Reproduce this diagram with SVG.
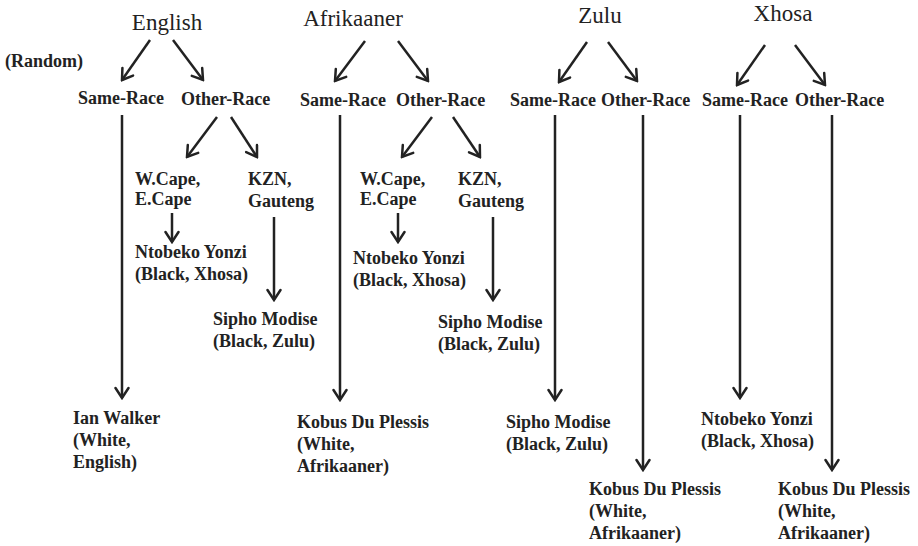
<svg xmlns="http://www.w3.org/2000/svg" width="918" height="546" viewBox="0 0 918 546">
<style>
.t{font-family:"Liberation Serif","Times New Roman",serif;font-size:23px;fill:#222}
.b{font-family:"Liberation Serif","Times New Roman",serif;font-size:18px;font-weight:bold;fill:#222}
.c line{stroke:#222;stroke-width:2.5;marker-end:url(#ah)}
</style>
<defs>
<marker id="ah" markerUnits="userSpaceOnUse" viewBox="-12 -8 14 16" markerWidth="14" markerHeight="16" refX="0" refY="0" orient="auto">
<path d="M-10,-6.5 L0,0 L-10,6.5" fill="none" stroke="#222" stroke-width="2.5" stroke-linecap="round" stroke-linejoin="miter"/>
</marker>
</defs>
<rect width="918" height="546" fill="#fff"/>
<g id="english"><text class="t" x="167" y="30" text-anchor="middle">English</text></g>
<g id="afrikaaner"><text class="t" x="353" y="26" text-anchor="middle">Afrikaaner</text></g>
<g id="zulu"><text class="t" x="600" y="23" text-anchor="middle">Zulu</text></g>
<g id="xhosa"><text class="t" x="783" y="21" text-anchor="middle">Xhosa</text></g>
<g id="random"><text class="b" x="5" y="67">(Random)</text></g>
<g id="eng-same"><text class="b" x="78" y="104">Same-Race</text></g>
<g id="eng-other"><text class="b" x="181" y="105">Other-Race</text></g>
<g id="afr-same"><text class="b" x="300" y="106">Same-Race</text></g>
<g id="afr-other"><text class="b" x="396" y="106">Other-Race</text></g>
<g id="zul-same"><text class="b" x="510" y="106">Same-Race</text></g>
<g id="zul-other"><text class="b" x="601" y="106">Other-Race</text></g>
<g id="xho-same"><text class="b" x="702" y="106">Same-Race</text></g>
<g id="xho-other"><text class="b" x="795" y="106">Other-Race</text></g>
<g id="eng-wcape"><text class="b" x="135" y="185">W.Cape,</text><text class="b" x="135" y="205">E.Cape</text></g>
<g id="eng-kzn"><text class="b" x="248" y="185">KZN,</text><text class="b" x="248" y="207">Gauteng</text></g>
<g id="afr-wcape"><text class="b" x="360" y="185">W.Cape,</text><text class="b" x="360" y="205">E.Cape</text></g>
<g id="afr-kzn"><text class="b" x="458" y="185">KZN,</text><text class="b" x="458" y="207">Gauteng</text></g>
<g id="eng-ntobeko"><text class="b" x="135" y="258">Ntobeko Yonzi</text><text class="b" x="135" y="280">(Black, Xhosa)</text></g>
<g id="afr-ntobeko"><text class="b" x="353" y="264">Ntobeko Yonzi</text><text class="b" x="353" y="286">(Black, Xhosa)</text></g>
<g id="eng-sipho"><text class="b" x="213" y="325">Sipho Modise</text><text class="b" x="213" y="347">(Black, Zulu)</text></g>
<g id="afr-sipho"><text class="b" x="438" y="328">Sipho Modise</text><text class="b" x="438" y="350">(Black, Zulu)</text></g>
<g id="eng-ian"><text class="b" x="73" y="424">Ian Walker</text><text class="b" x="73" y="446">(White,</text><text class="b" x="73" y="468">English)</text></g>
<g id="afr-kobus"><text class="b" x="297" y="428">Kobus Du Plessis</text><text class="b" x="297" y="450">(White,</text><text class="b" x="297" y="472">Afrikaaner)</text></g>
<g id="zul-sipho"><text class="b" x="506" y="428">Sipho Modise</text><text class="b" x="506" y="450">(Black, Zulu)</text></g>
<g id="zul-kobus"><text class="b" x="589" y="495">Kobus Du Plessis</text><text class="b" x="589" y="517">(White,</text><text class="b" x="589" y="539">Afrikaaner)</text></g>
<g id="xho-ntobeko"><text class="b" x="701" y="425">Ntobeko Yonzi</text><text class="b" x="701" y="447">(Black, Xhosa)</text></g>
<g id="xho-kobus"><text class="b" x="778" y="495">Kobus Du Plessis</text><text class="b" x="778" y="517">(White,</text><text class="b" x="778" y="539">Afrikaaner)</text></g>
<g id="connectors" class="c">
<line x1="150" y1="40" x2="122" y2="80"/>
<line x1="173" y1="40" x2="203" y2="80"/>
<line x1="365" y1="41" x2="335" y2="81"/>
<line x1="398" y1="41" x2="428" y2="81"/>
<line x1="587" y1="42" x2="559" y2="82"/>
<line x1="608" y1="42" x2="637" y2="81"/>
<line x1="765" y1="45" x2="737" y2="85"/>
<line x1="795" y1="45" x2="825" y2="85"/>
<line x1="122" y1="115" x2="122" y2="398"/>
<line x1="217" y1="117" x2="187" y2="157"/>
<line x1="231" y1="117" x2="257" y2="157"/>
<line x1="172" y1="213" x2="172" y2="242"/>
<line x1="274" y1="217" x2="274" y2="300"/>
<line x1="340" y1="115" x2="340" y2="400"/>
<line x1="432" y1="117" x2="402" y2="157"/>
<line x1="453" y1="117" x2="480" y2="157"/>
<line x1="398" y1="213" x2="398" y2="242"/>
<line x1="493" y1="217" x2="493" y2="300"/>
<line x1="555" y1="115" x2="555" y2="400"/>
<line x1="643" y1="115" x2="643" y2="470"/>
<line x1="740" y1="115" x2="740" y2="398"/>
<line x1="832" y1="115" x2="832" y2="470"/>
</g>
</svg>
